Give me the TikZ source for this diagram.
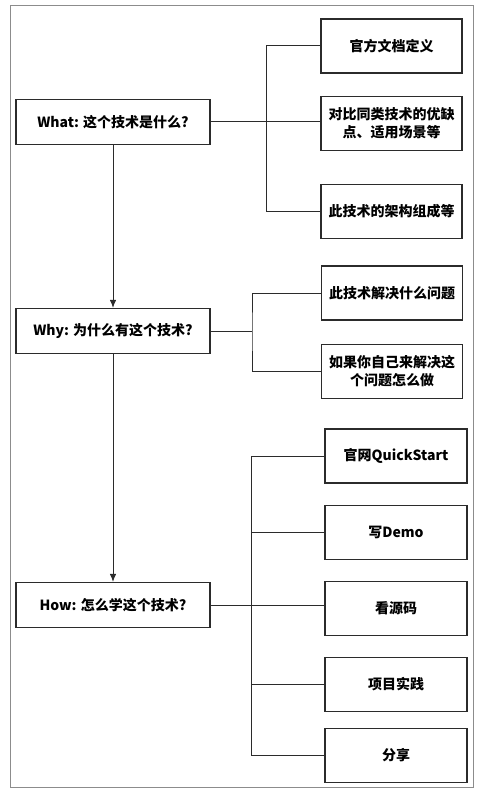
\documentclass[tikz,border=0pt]{standalone}
\usepackage{fontspec}
\setmainfont{Noto Sans CJK SC}
\usetikzlibrary{positioning,arrows.meta}
\begin{document}
\begin{tikzpicture}[x=1pt,y=-1pt]
  \definecolor{framegray}{HTML}{8C8C8C}
  \definecolor{linegray}{HTML}{2B2B2B}
  \newcommand{\boxfont}[0]{\fontsize{14}{18}\selectfont\bfseries}
  \newcommand{\stub}[0]{73pt}
  \tikzstyle{leftblock}  = [rectangle, draw=linegray, line width=1.1pt, minimum width=194pt, minimum height=45pt, font=\boxfont]
  \tikzstyle{rightblock} = [rectangle, draw=linegray, line width=1.1pt, minimum width=141pt, minimum height=54pt, align=center, font=\boxfont]
  \tikzstyle{connector}  = [draw=linegray, line width=1pt, -{Latex[length=8pt,width=6.5pt]}]
  \tikzstyle{branch}     = [draw=linegray, line width=1pt]
  \useasboundingbox (0,0) rectangle (479,791);
  \draw [framegray, line width=0.9pt] (10,5) rectangle (473,787);
  % left column
  \node [leftblock] (what) at (113,122) {What: 这个技术是什么?};
  \node [leftblock] (why)  at (113,331) {Why: 为什么有这个技术?};
  \node [leftblock] (how)  at (113,605) {How: 怎么学这个技术?};
  \draw [connector] (what) -- (why);
  \draw [connector] (why)  -- (how);
  % what
  \node [rightblock] (whatdoc)  at (391.5,46)            {官方文档定义};
  \node [rightblock, below = 22pt of whatdoc] (whatcmp)  {对比同类技术的优缺\\点、适用场景等};
  \node [rightblock, below = 33pt of whatcmp] (whatarch) {此技术的架构组成等};
  \draw [branch] (what.east) -- (what.east -| whatcmp.west);
  \draw [branch] (whatdoc.west) -- ++(-54,0) |- (whatarch.west);
  % why
  \node [rightblock] (whyissue) at (392,293)             {此技术解决什么问题};
  \node [rightblock, below = 23pt of whyissue] (whyself) {如果你自己来解决这\\个问题怎么做};
  \coordinate (whyhub) at (252,331);
  \draw [branch] (why.east) -- (whyhub);
  \draw [branch] (whyissue.west) -| (whyhub) |- (whyself.west);
  % how
  \node [rightblock, minimum width=142pt] (howqs) at (396,456)          {官网QuickStart};
  \node [rightblock, minimum width=142pt, below = 21pt of howqs]   (howdemo)  {写Demo};
  \node [rightblock, minimum width=142pt, below = 21pt of howdemo] (howsrc)   {看源码};
  \node [rightblock, minimum width=142pt, below = 21pt of howsrc]  (howproj)  {项目实践};
  \node [rightblock, minimum width=142pt, below = 16pt of howproj] (howshare) {分享};
  \draw [branch] (how.east) -- (how.east -| howsrc.west);
  \draw [branch] (howqs.west) -- ++(-\stub,0) |- (howshare.west);
  \foreach \n in {howdemo,howproj}
    \draw [branch] (\n.west) -- ++(-\stub,0);
\end{tikzpicture}
\end{document}
